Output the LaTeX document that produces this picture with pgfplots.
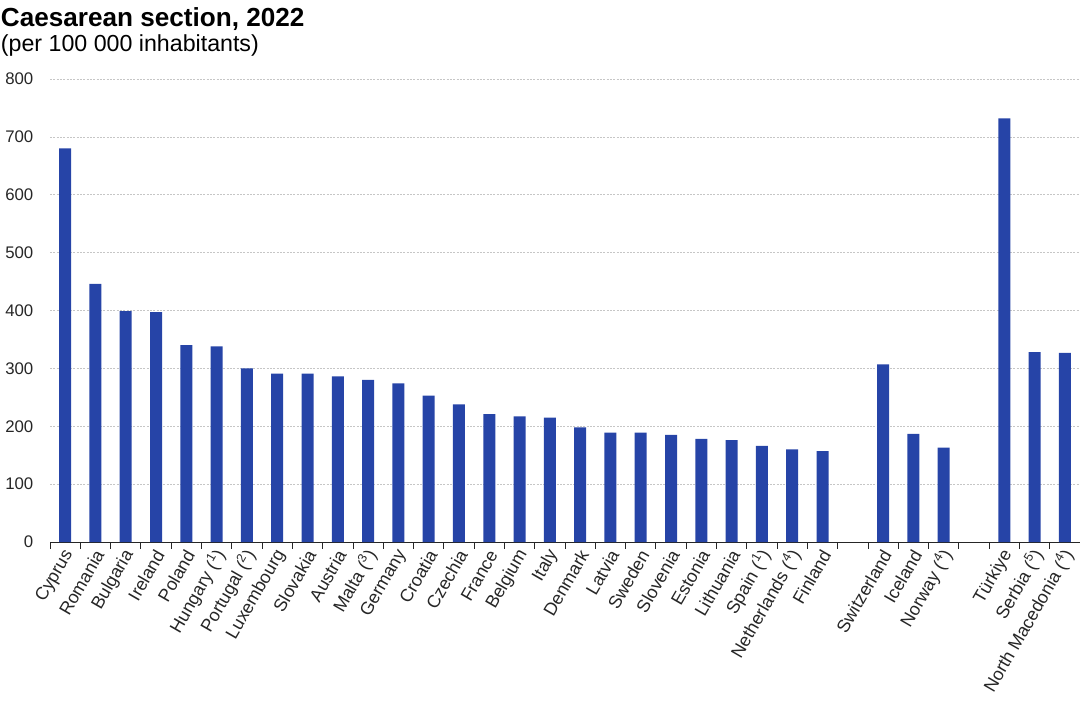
\documentclass[border=0pt]{standalone}
\usepackage{pgfplots}
\pgfplotsset{compat=1.18}
\usepackage{fontspec}
\setmainfont{Liberation Sans}
\definecolor{barblue}{HTML}{2644A7}
\begin{document}
\begin{tikzpicture}
\path[use as bounding box] (-37.5pt,-120pt) rectangle (772.5pt,406.5pt);
\begin{axis}[
  at={(0,0)}, anchor=south west,
  scale only axis,
  width=772.5pt, height=347.25pt,
  xmin=-0.5, xmax=33.5,
  ymin=0, ymax=800,
  ytick={0,100,...,800},
  ymajorgrids,
  grid style={gray!45, dash pattern=on 1.5pt off 1pt, line width=0.4pt},
  axis x line*=bottom, axis y line*=left,
  y axis line style={draw=none},
  x axis line style={black!85, line width=0.6pt},
  ytick style={draw=none},
  xtick={0,...,33},
  xticklabels={Cyprus,Romania,Bulgaria,Ireland,Poland,Hungary ({\textsuperscript{1}}),Portugal ({\textsuperscript{2}}),Luxembourg,Slovakia,Austria,Malta ({\textsuperscript{3}}),Germany,Croatia,Czechia,France,Belgium,Italy,Denmark,Latvia,Sweden,Slovenia,Estonia,Lithuania,Spain ({\textsuperscript{1}}),Netherlands ({\textsuperscript{4}}),Finland,,Switzerland,Iceland,Norway ({\textsuperscript{4}}),,Türkiye,Serbia ({\textsuperscript{5}}),North Macedonia ({\textsuperscript{4}})},
  major x tick style={draw=none},
  minor xtick={-0.5,0.5,...,33.5},
  minor x tick style={black!85, line width=0.6pt},
  xtick align=outside,
  minor tick length=5pt,
  xticklabel style={rotate=60, anchor=east, font=\fontsize{13.4}{15}\selectfont, text=black!85, inner sep=1pt, yshift=-4pt},
  yticklabel style={font=\fontsize{12.6}{14}\selectfont, text=black!85, xshift=-9pt},
  /pgf/number format/assume math mode=true,
  clip=false,
]
\addplot[ybar, bar width=9pt, fill=barblue, draw=none] coordinates {
  (0,680) (1,446) (2,399) (3,397) (4,340) (5,338) (6,300) (7,291) (8,291) (9,286)
  (10,280) (11,274) (12,253) (13,238) (14,221) (15,217) (16,215) (17,198) (18,189) (19,189)
  (20,185) (21,178) (22,176) (23,166) (24,160) (25,157)
  (27,307) (28,187) (29,163)
  (31,732) (32,328) (33,327)
};
\end{axis}
\node[anchor=base west, inner sep=0pt, font=\fontsize{19.6}{22}\selectfont\bfseries] at (-37pt,386.5pt) {Caesarean section, 2022};
\node[anchor=base west, inner sep=0pt, font=\fontsize{17.4}{20}\selectfont] at (-37pt,367.7pt) {(per 100 000 inhabitants)};
\end{tikzpicture}
\end{document}
